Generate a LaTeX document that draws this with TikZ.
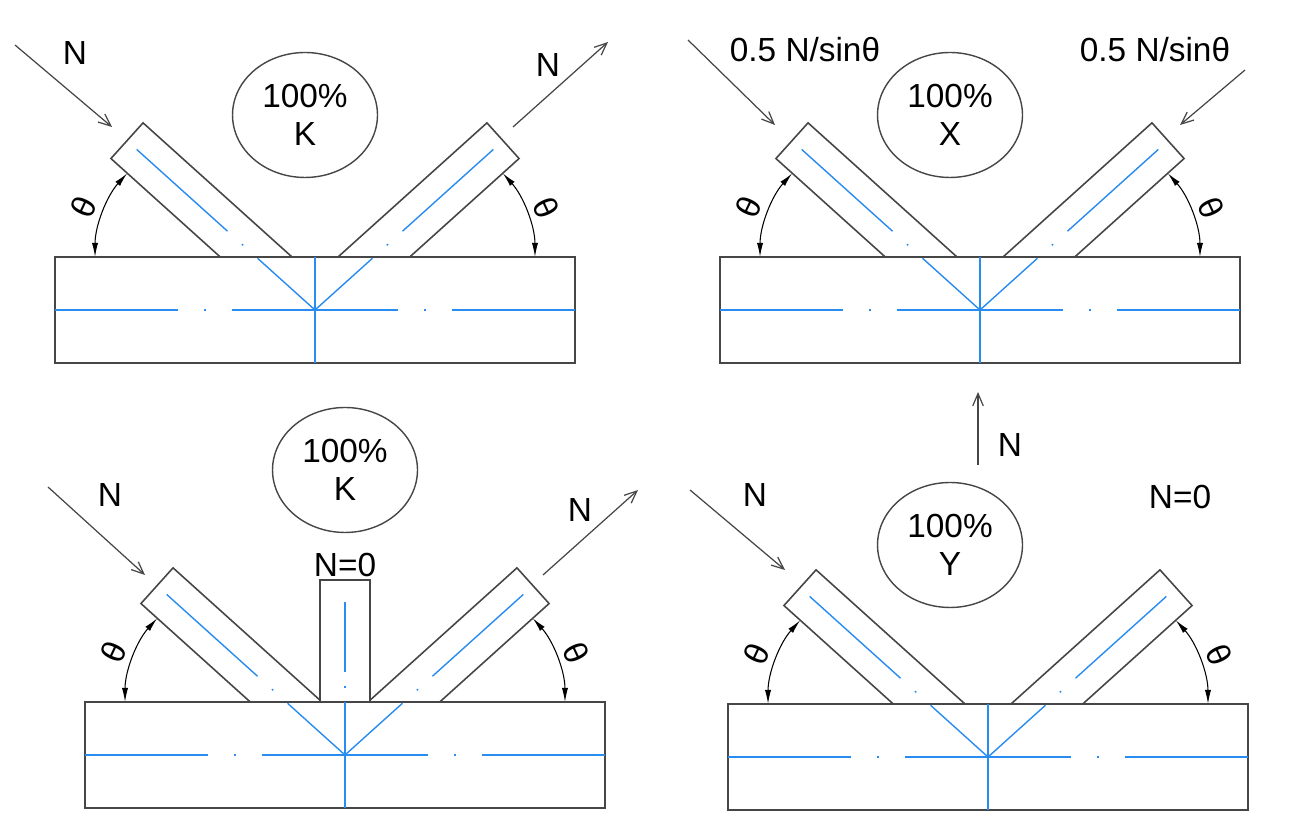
\documentclass[tikz,border=0pt]{standalone}
\usepackage{fontspec}
\setmainfont{Liberation Sans}
\usetikzlibrary{shapes.geometric,arrows.meta}
\definecolor{axisblue}{RGB}{40,140,240}
\definecolor{edgegray}{RGB}{70,70,70}
\newcommand{\chordHalfW}{260}
\newcommand{\chordHalfH}{53}
\newcommand{\braceLen}{253}
\newcommand{\braceHalfW}{24}
\newcommand{\braceAngle}{42}
\tikzset{
  member/.style={draw=edgegray, fill=white, line width=0.9pt},
  axis/.style={axisblue, line width=0.8pt},
  force/.style={edgegray, line width=0.7pt, -{Straight Barb[length=7pt,width=6pt]}},
  angle/.style={black, line width=0.6pt, {Latex[length=8pt,width=3.5pt]}-{Latex[length=8pt,width=3.5pt]}},
  ratio/.style={ellipse, draw=edgegray, line width=0.8pt, minimum width=2.9cm, minimum height=2.5cm, align=center, font=\fontsize{19}{22}\selectfont, inner sep=0pt},
  lbl/.style={font=\fontsize{19}{22}\selectfont, inner sep=1pt}
}
% one gap joint: chord, two braces, centre lines, angle marks
\newcommand{\drawJoint}[2]{%
  \begin{scope}[shift={(#1,#2)}]
    % braces
    \foreach \a in {\braceAngle,180-\braceAngle}{
      \begin{scope}[rotate=\a]
        \draw[member] (0,-\braceHalfW) rectangle (\braceLen,\braceHalfW);
      \end{scope}
    }
    % chord
    \draw[member] (-\chordHalfW,-\chordHalfH) rectangle (\chordHalfW,\chordHalfH);
    % centre lines
    \foreach \a in {\braceAngle,180-\braceAngle}{
      \begin{scope}[rotate=\a]
        \draw[axis, dash pattern=on 44pt off 11pt on 1pt off 11pt on 120pt] (0,0) -- (240,0);
      \end{scope}
    }
    \draw[axis, dash pattern=on 70pt off 15pt on 1pt off 15pt on 94pt off 15pt on 1pt off 15pt on 90pt] (-\chordHalfW,0) -- (\chordHalfW,0);
    \draw[axis] (0,-\chordHalfH) -- (0,\chordHalfH);
    % angle marks
    \draw[angle] ([shift={(180:2.5cm)}]-95,\chordHalfH) arc[start angle=180, end angle=138, radius=2.5cm];
    \draw[angle] ([shift={(0:2.5cm)}]95,\chordHalfH) arc[start angle=0, end angle=42, radius=2.5cm];
    \node[lbl, rotate=65] at ([shift={(160:2.9cm)}]-95,\chordHalfH) {θ};
    \node[lbl, rotate=-65] at ([shift={(20:2.9cm)}]95,\chordHalfH) {θ};
  \end{scope}}
\begin{document}
\begin{tikzpicture}[x=0.02cm, y=0.02cm]
  \useasboundingbox (0,0) rectangle (1301,838);

  % top left: K joint
  \drawJoint{315}{528}
  \node[ratio] (kTop) at (305,723) {100\%\\K};
  \coordinate (kTopInA) at (15,793);  \coordinate (kTopInB) at (112,711);
  \coordinate (kTopOutA) at (513,711); \coordinate (kTopOutB) at (608,796);
  \draw[force] (kTopInA) -- (kTopInB);
  \draw[force] (kTopOutA) -- (kTopOutB);
  \node[lbl] (kTopInN) at (75,785) {N};
  \node[lbl] (kTopOutN) at (548,773) {N};

  % top right: X joint
  \drawJoint{980}{528}
  \node[ratio] (xTop) at (950,723) {100\%\\X};
  \coordinate (xInLA) at (688,798);  \coordinate (xInLB) at (775,713);
  \coordinate (xInRA) at (1245,768); \coordinate (xInRB) at (1180,713);
  \draw[force] (xInLA) -- (xInLB);
  \draw[force] (xInRA) -- (xInRB);
  \node[lbl] (xInLN) at (805,788) {0.5 N/sinθ};
  \node[lbl] (xInRN) at (1155,788) {0.5 N/sinθ};

  % bottom left: K joint with vertical member
  \drawJoint{345}{83}
  \draw[member] (320,136) rectangle (370,258);
  \draw[axis, dash pattern=on 30pt off 8pt on 1pt off 8pt on 40pt] (345,83) -- (345,255);
  \node[ratio] (kBot) at (345,368) {100\%\\K};
  \node[lbl] (kBotZero) at (345,273) {N=0};
  \coordinate (kBotInA) at (48,351);  \coordinate (kBotInB) at (145,263);
  \coordinate (kBotOutA) at (543,263); \coordinate (kBotOutB) at (638,348);
  \draw[force] (kBotInA) -- (kBotInB);
  \draw[force] (kBotOutA) -- (kBotOutB);
  \node[lbl] (kBotInN) at (110,343) {N};
  \node[lbl] (kBotOutN) at (580,328) {N};

  % bottom right: Y joint
  \drawJoint{988}{81}
  \node[ratio] (yBot) at (950,293) {100\%\\Y};
  \coordinate (yInA) at (690,348); \coordinate (yInB) at (785,268);
  \draw[force] (yInA) -- (yInB);
  \node[lbl] (yInN) at (755,343) {N};
  \node[lbl] (yZero) at (1180,341) {N=0};

  % resulting force between the right panels
  \coordinate (upA) at (978,373); \coordinate (upB) at (978,446);
  \draw[force] (upA) -- (upB);
  \node[lbl] (upN) at (1010,393) {N};
\end{tikzpicture}
\end{document}
